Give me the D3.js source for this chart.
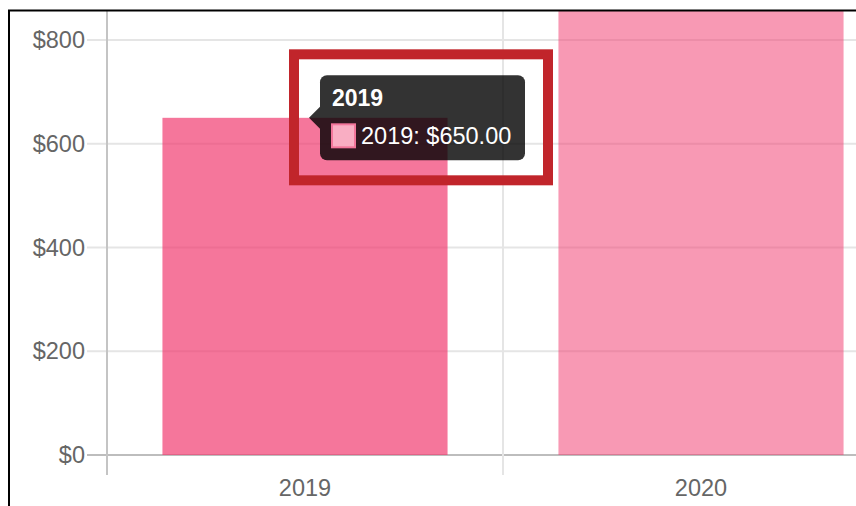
<!DOCTYPE html>
<html>
<head>
<meta charset="UTF-8" />
<script src="https://d3js.org/d3.v7.min.js"></script>
<style>
  body { margin: 0; background: #fff; }
  svg { display: block; font-family: "Liberation Sans", Arial, sans-serif; }
  .tick-label { fill: #666; font-size: 23.5px; }
</style>
</head>
<body>
<svg width="856" height="506"></svg>
<script>
  // data
  const years = ["2019", "2020"];
  const amounts = [650, 900];
  const barColors = ["rgba(241,60,112,0.7)", "rgba(241,60,112,0.52)"];
  const yTicks = [0, 200, 400, 600, 800];
  const hoverIndex = 0;

  const svg = d3.select("svg");

  // the screenshot is a crop of a bigger chart, keep things inside the frame
  svg.append("clipPath").attr("id", "frame")
    .append("rect").attr("x", 10).attr("y", 11).attr("width", 846).attr("height", 495);

  const g = svg.append("g").attr("clip-path", "url(#frame)");

  const x = d3.scaleBand().domain(years).range([107, 899]).padding(0);
  const y = d3.scaleLinear().domain([0, 800]).range([455, 40]);
  const fmt = v => "$" + d3.format(",")(v);
  const bw = x.bandwidth() * 0.72;

  // horizontal grid lines + tick marks
  g.selectAll(".hgrid").data(yTicks).enter().append("line")
    .attr("x1", 87).attr("x2", 899)
    .attr("y1", d => y(d)).attr("y2", d => y(d))
    .attr("stroke", d => d === 0 ? "#bdbdbd" : "#e5e5e5")
    .attr("stroke-width", 2);

  // vertical grid lines between categories
  const bounds = years.map(d => x(d)).concat([x.range()[1]]);
  g.selectAll(".vgrid").data(bounds).enter().append("line")
    .attr("x1", d => d).attr("x2", d => d)
    .attr("y1", 0).attr("y2", 475)
    .attr("stroke", (d, i) => i === 0 ? "#c4c4c4" : "#e5e5e5")
    .attr("stroke-width", 2);

  // bars
  g.selectAll(".bar").data(years).enter().append("rect")
    .attr("x", d => x(d) + (x.bandwidth() - bw) / 2)
    .attr("y", (d, i) => y(amounts[i]))
    .attr("width", bw)
    .attr("height", (d, i) => y(0) - y(amounts[i]))
    .attr("fill", (d, i) => barColors[i]);

  // axis labels
  g.selectAll(".ylab").data(yTicks).enter().append("text")
    .attr("class", "tick-label")
    .attr("x", 85).attr("y", d => y(d)).attr("dy", "0.35em")
    .attr("text-anchor", "end")
    .text(fmt);

  g.selectAll(".xlab").data(years).enter().append("text")
    .attr("class", "tick-label")
    .attr("x", d => x(d) + x.bandwidth() / 2).attr("y", 496)
    .attr("text-anchor", "middle")
    .text(d => d);

  // tooltip on the hovered bar
  const tipX = x(years[hoverIndex]) + x.bandwidth() / 2 + 4;
  const tipY = y(amounts[hoverIndex]);
  const boxX = tipX + 11, boxW = 205, boxH = 85, boxY = tipY - boxH / 2;

  const tip = g.append("g");
  tip.append("rect")
    .attr("x", boxX).attr("y", boxY).attr("width", boxW).attr("height", boxH)
    .attr("rx", 7).attr("fill", "rgba(0,0,0,0.8)");
  tip.append("path")
    .attr("d", `M${tipX},${tipY} L${boxX},${tipY - 11} L${boxX},${tipY + 11} Z`)
    .attr("fill", "rgba(0,0,0,0.8)");
  tip.append("text")
    .attr("x", boxX + 12).attr("y", boxY + 31)
    .attr("fill", "#fff").attr("font-size", "23px").attr("font-weight", "bold")
    .text(years[hoverIndex]);
  tip.append("rect")
    .attr("x", boxX + 12).attr("y", boxY + 49).attr("width", 23).attr("height", 23)
    .attr("fill", "#f9aec3").attr("stroke", "#f3769b").attr("stroke-width", 2);
  tip.append("text")
    .attr("x", boxX + 41).attr("y", boxY + 69)
    .attr("fill", "#fff").attr("font-size", "23.5px")
    .text(years[hoverIndex] + ": $" + d3.format(".2f")(amounts[hoverIndex]));

  // red highlight around the tooltip
  svg.append("rect")
    .attr("x", boxX - 26).attr("y", boxY - 21)
    .attr("width", boxW + 49).attr("height", boxH + 41)
    .attr("fill", "none").attr("stroke", "#c1252b").attr("stroke-width", 10);

  // screenshot frame (top and left edges)
  svg.append("line").attr("x1", 8).attr("x2", 856).attr("y1", 10.5).attr("y2", 10.5)
    .attr("stroke", "#000").attr("stroke-width", 2);
  svg.append("line").attr("x1", 9).attr("x2", 9).attr("y1", 10).attr("y2", 506)
    .attr("stroke", "#000").attr("stroke-width", 2);
</script>
</body>
</html>
